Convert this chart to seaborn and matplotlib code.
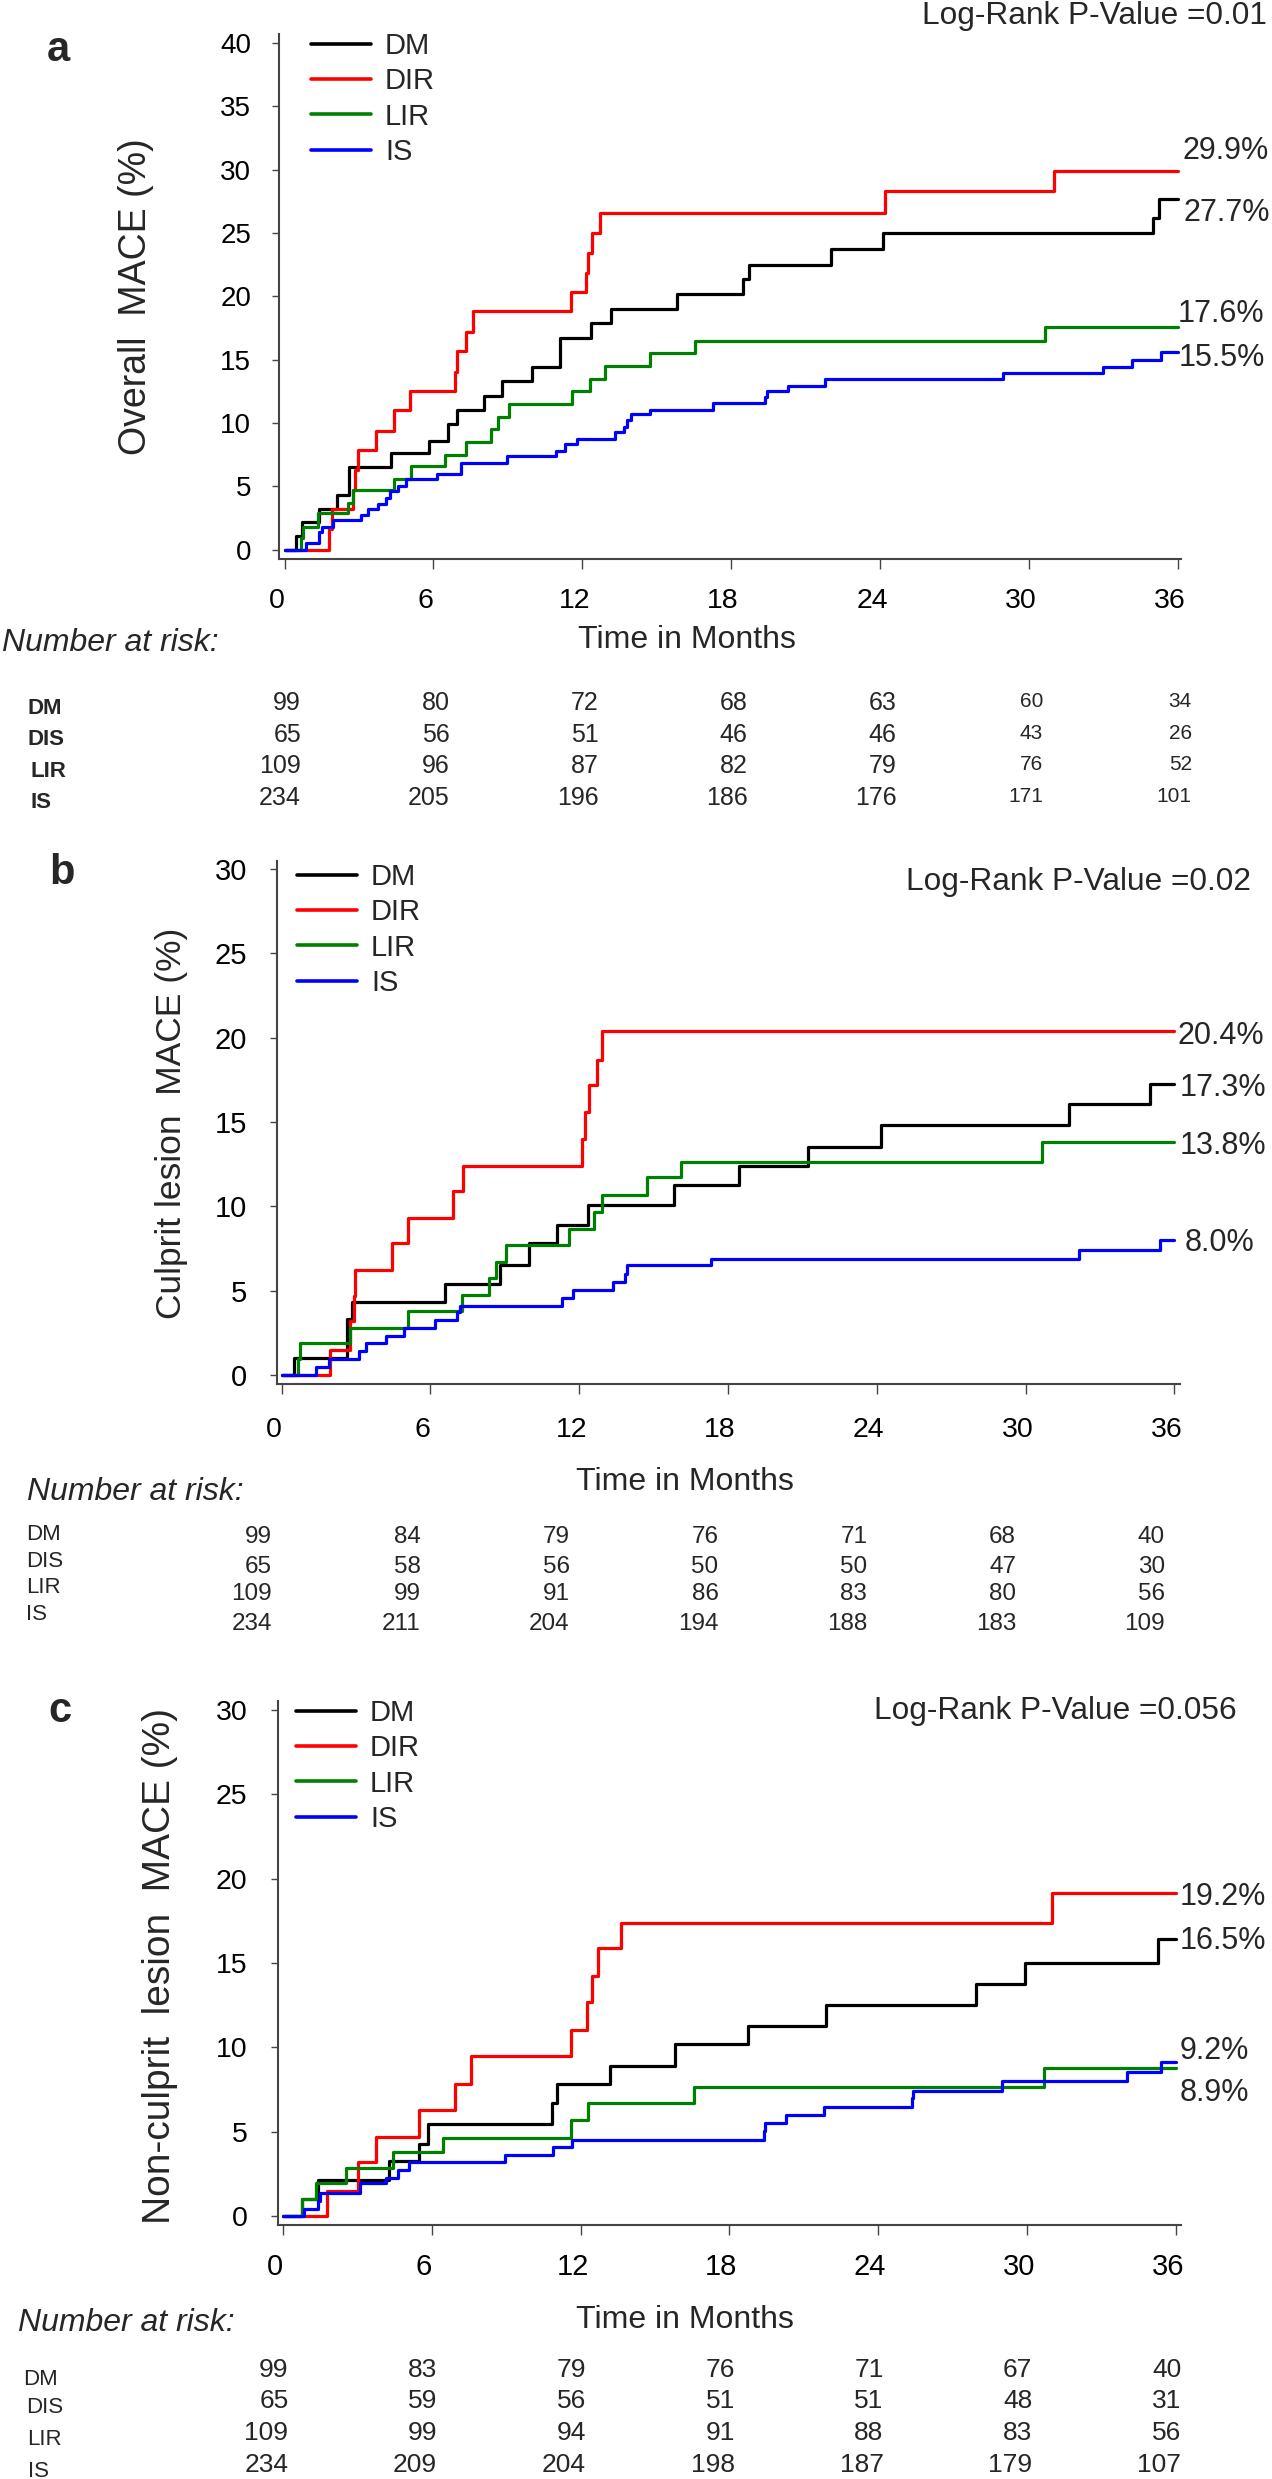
import matplotlib
matplotlib.use("Agg")
import matplotlib.pyplot as plt
import matplotlib.transforms as mtransforms
import pandas as pd
import seaborn as sns

# ---------------- data ----------------
GROUPS = ["DM", "DIR", "LIR", "IS"]
COLORS = {"DM": "#000000", "DIR": "#ff0000", "LIR": "#008000", "IS": "#0000ff"}
TICKS_X = [0, 6, 12, 18, 24, 30, 36]
RISK_ROWS = ["DM", "DIS", "LIR", "IS"]

# Panel a: overall MACE (step times in months, cumulative %)
A_DM_T = [0, 0.46, 0.71, 1.37, 2.1, 2.6, 4.28, 5.82, 6.6, 6.94, 8.04, 8.75, 9.99, 11.1, 12.36, 13.15, 15.8, 18.46, 18.73, 22.02, 24.12, 34.98, 35.24, 36]
A_DM_V = [0, 1.1, 2.2, 3.2, 4.3, 6.5, 7.6, 8.6, 9.9, 11.0, 12.1, 13.3, 14.4, 16.7, 17.9, 19.0, 20.2, 21.4, 22.5, 23.75, 25.0, 26.2, 27.7, 27.7]
A_DIR_T = [0, 1.78, 1.9, 2.75, 2.85, 2.97, 3.68, 4.42, 5.04, 6.86, 6.95, 7.3, 7.6, 11.55, 12.16, 12.22, 12.4, 12.7, 24.2, 31.0, 36]
A_DIR_V = [0, 1.6, 3.2, 4.7, 6.3, 7.9, 9.4, 11.0, 12.5, 14.0, 15.7, 17.2, 18.8, 20.3, 21.8, 23.4, 25.0, 26.6, 28.3, 29.9, 29.9]
A_LIR_T = [0, 0.68, 0.74, 1.34, 2.55, 2.77, 4.42, 5.08, 6.45, 7.3, 8.34, 8.62, 9.03, 11.6, 12.3, 12.9, 14.74, 16.56, 30.66, 36]
A_LIR_V = [0, 0.9, 1.8, 2.9, 3.7, 4.7, 5.6, 6.6, 7.5, 8.5, 9.5, 10.5, 11.5, 12.5, 13.5, 14.5, 15.5, 16.5, 17.6, 17.6]
A_IS_T = [0, 0.87, 1.37, 1.53, 1.94, 3.1, 3.35, 3.76, 4.09, 4.25, 4.58, 4.91, 6.15, 7.1, 8.95, 10.93, 11.3, 11.8, 13.3, 13.67, 13.8, 13.95, 14.74, 17.25, 19.37, 19.45, 20.29, 21.79, 28.96, 33.0, 34.15, 35.32, 36]
A_IS_V = [0, 0.5, 1.4, 1.8, 2.3, 2.7, 3.2, 3.6, 4.1, 4.6, 5.0, 5.6, 6.0, 6.8, 7.4, 7.8, 8.3, 8.7, 9.3, 9.7, 10.2, 10.7, 11.0, 11.6, 12.06, 12.5, 12.94, 13.5, 13.93, 14.45, 15.0, 15.6, 15.6]

# Panel b: culprit lesion MACE
B_DM_T = [0, 0.49, 2.63, 2.83, 6.6, 8.8, 9.98, 11.1, 12.36, 15.81, 18.46, 21.22, 24.16, 31.76, 35.0, 36]
B_DM_V = [0, 1.0, 3.3, 4.3, 5.4, 6.5, 7.8, 8.9, 10.1, 11.25, 12.37, 13.54, 14.81, 16.05, 17.27, 17.27]
B_DIR_T = [0, 1.94, 2.76, 2.9, 2.96, 4.44, 5.1, 6.9, 7.3, 12.13, 12.25, 12.4, 12.7, 12.9, 36]
B_DIR_V = [0, 1.5, 3.2, 4.7, 6.2, 7.8, 9.3, 10.9, 12.4, 14.0, 15.6, 17.2, 18.7, 20.4, 20.4]
B_LIR_T = [0, 0.68, 0.75, 2.76, 5.1, 7.28, 8.38, 8.63, 9.04, 11.6, 12.58, 12.9, 14.74, 16.09, 30.67, 36]
B_LIR_V = [0, 0.94, 1.87, 2.8, 3.8, 4.75, 5.74, 6.7, 7.7, 8.67, 9.68, 10.7, 11.76, 12.65, 13.83, 13.83]
B_IS_T = [0, 1.4, 1.9, 3.12, 3.4, 4.19, 4.93, 6.2, 7.07, 7.2, 11.3, 11.75, 13.36, 13.84, 13.92, 17.3, 32.16, 35.4, 36]
B_IS_V = [0, 0.5, 0.94, 1.4, 1.87, 2.34, 2.8, 3.28, 3.75, 4.1, 4.57, 5.04, 5.5, 5.97, 6.5, 6.86, 7.43, 8.0, 8.0]

# Panel c: non-culprit lesion MACE
C_DM_T = [0, 0.77, 1.4, 4.26, 5.47, 5.84, 10.85, 11.06, 13.17, 15.81, 18.75, 21.91, 27.96, 29.93, 35.29, 36]
C_DM_V = [0, 1.02, 2.16, 3.29, 4.24, 5.45, 6.69, 7.83, 8.92, 10.2, 11.28, 12.53, 13.77, 14.98, 16.45, 16.45]
C_DIR_T = [0, 1.79, 3.03, 3.74, 5.47, 6.95, 7.6, 11.6, 12.25, 12.46, 12.7, 13.62, 31.02, 36]
C_DIR_V = [0, 1.47, 3.18, 4.7, 6.29, 7.83, 9.46, 11.0, 12.7, 14.2, 15.9, 17.36, 19.17, 19.17]
C_LIR_T = [0, 0.77, 1.35, 2.55, 4.43, 6.45, 11.6, 12.3, 16.56, 30.68, 36]
C_LIR_V = [0, 0.98, 1.93, 2.84, 3.79, 4.65, 5.67, 6.69, 7.67, 8.78, 8.78]
C_IS_T = [0, 0.86, 1.43, 1.5, 3.11, 4.15, 4.64, 5.1, 8.97, 10.9, 11.67, 19.39, 19.45, 20.3, 21.8, 25.35, 25.4, 29.0, 34.05, 35.39, 36]
C_IS_V = [0, 0.39, 0.9, 1.36, 1.93, 2.27, 2.72, 3.18, 3.63, 4.08, 4.5, 5.06, 5.51, 6.01, 6.47, 6.97, 7.42, 7.99, 8.51, 9.14, 9.14]

# Numbers at risk
A_RISK = [[99, 80, 72, 68, 63, 60, 34], [65, 56, 51, 46, 46, 43, 26],
          [109, 96, 87, 82, 79, 76, 52], [234, 205, 196, 186, 176, 171, 101]]
B_RISK = [[99, 84, 79, 76, 71, 68, 40], [65, 58, 56, 50, 50, 47, 30],
          [109, 99, 91, 86, 83, 80, 56], [234, 211, 204, 194, 188, 183, 109]]
C_RISK = [[99, 83, 79, 76, 71, 67, 40], [65, 59, 56, 51, 51, 48, 31],
          [109, 99, 94, 91, 88, 83, 56], [234, 209, 204, 198, 187, 179, 107]]

A_END = ["29.9%", "27.7%", "17.6%", "15.5%"]
B_END = ["20.4%", "17.3%", "13.8%", "8.0%"]
C_END = ["19.2%", "16.5%", "9.2%", "8.9%"]
A_P, B_P, C_P = "Log-Rank P-Value =0.01", "Log-Rank P-Value =0.02", "Log-Rank P-Value =0.056"
A_YLAB, B_YLAB, C_YLAB = "Overall  MACE (%)", "Culprit lesion  MACE (%)", "Non-culprit  lesion  MACE (%)"

# ---------------- figure ----------------
sns.set_theme(style="white")
plt.rcParams["font.family"] = ["Liberation Sans", "DejaVu Sans"]

W, H, DPI = 1272, 2479, 100
fig = plt.figure(figsize=(W / DPI, H / DPI), dpi=DPI)
fig.patch.set_facecolor("white")


def fx(x):
    return x / W


def fy(y):
    return 1 - y / H


def ptext(x, y, s, **kw):
    return fig.text(fx(x), fy(y), s, **kw)


SPINE = "#444444"

panels = [
    dict(letter="a", series={"DM": (A_DM_T, A_DM_V), "DIR": (A_DIR_T, A_DIR_V), "LIR": (A_LIR_T, A_LIR_V), "IS": (A_IS_T, A_IS_V)},
         rect=(278.8, 33.7, 1180.8, 558.7), xlim=(-0.23, 36.12), ylim=(-0.72, 40.73), yticks=list(range(0, 41, 5)),
         ytfs=20, xtfs=20.5, ypad=14.7, xpad=14.3, letter_pos=(47, 61), ylab=A_YLAB, ylab_pos=(136, 297), ylab_fs=27,
         p=A_P, p_pos=(922, 23.7), end=A_END,
         end_pos=[(1182, 158.8), (1183.8, 221.2), (1177.8, 321.5), (1178.6, 365.5)],
         leg=(311, 32), nar=(1.7, 650.7), tim=(686.5, 640),
         risk=A_RISK, risk_y=[710, 741.7, 773.3, 805], risk_fs=[18, 18, 18, 18, 18, 15, 15],
         risk_dx=[16.5, 16.5, 16.5, 16.5, 16.5, 14, 14], risk_dy=[0, 0, 0, 0, 0, -3, -3],
         lab_x=[28, 28, 31, 31], lab_y=[714, 745, 776.7, 808], lab_w="bold"),
    dict(letter="b", series={"DM": (B_DM_T, B_DM_V), "DIR": (B_DIR_T, B_DIR_V), "LIR": (B_LIR_T, B_LIR_V), "IS": (B_IS_T, B_IS_V)},
         rect=(276.7, 861, 1179.5, 1384), xlim=(-0.198, 36.205), ylim=(-0.533, 30.47), yticks=list(range(0, 31, 5)),
         ytfs=21, xtfs=20.5, ypad=16.1, xpad=16.5, letter_pos=(49, 884), ylab=B_YLAB, ylab_pos=(172, 1123), ylab_fs=25.5,
         p=B_P, p_pos=(906, 890), end=B_END,
         end_pos=[(1177.8, 1044), (1179.5, 1096), (1179.5, 1153.7), (1185, 1251)],
         leg=(297, 863), nar=(26.7, 1500), tim=(685, 1481.7),
         risk=B_RISK, risk_y=[1543.3, 1573, 1600, 1630], risk_fs=[17.5] * 7, risk_dx=[-9.5] * 7, risk_dy=[0] * 7,
         lab_x=[26, 26, 26, 26], lab_y=[1540, 1566.7, 1593, 1620], lab_w="normal"),
    dict(letter="c", series={"DM": (C_DM_T, C_DM_V), "DIR": (C_DIR_T, C_DIR_V), "LIR": (C_LIR_T, C_LIR_V), "IS": (C_IS_T, C_IS_V)},
         rect=(277.6, 1701, 1180.8, 2225), xlim=(-0.214, 36.206), ylim=(-0.533, 30.53), yticks=list(range(0, 31, 5)),
         ytfs=20.5, xtfs=21, ypad=16.3, xpad=13.4, letter_pos=(48, 1722), ylab=C_YLAB, ylab_pos=(160, 1966), ylab_fs=28,
         p=C_P, p_pos=(874, 1718.5), end=C_END,
         end_pos=[(1179.5, 1904.8), (1179.5, 1949), (1179.5, 2059), (1179.5, 2101)],
         leg=(296, 1699), nar=(18, 2330.7), tim=(684.5, 2320),
         risk=C_RISK, risk_y=[2377, 2408, 2440, 2471.7], risk_fs=[19] * 7, risk_dx=[5.5] * 7, risk_dy=[0] * 7,
         lab_x=[22.7, 26, 27.3, 28], lab_y=[2385, 2413, 2445, 2476.7], lab_w="normal"),
]

for P in panels:
    L, T, R, B = P["rect"]
    ax = fig.add_axes([fx(L), fy(B), (R - L) / W, (B - T) / H])
    frames = [pd.DataFrame({"Month": t, "MACE": v, "Group": g}) for g, (t, v) in P["series"].items()]
    df = pd.concat(frames, ignore_index=True)
    sns.lineplot(data=df, x="Month", y="MACE", hue="Group", hue_order=GROUPS, palette=COLORS,
                 estimator=None, sort=False, drawstyle="steps-post", linewidth=2.3, ax=ax)
    ax.set_xlim(*P["xlim"])
    ax.set_ylim(*P["ylim"])
    ax.set_xticks(TICKS_X)
    ax.set_xticklabels([str(t) for t in TICKS_X])
    ax.set_yticks(P["yticks"])
    ax.set_yticklabels([str(t) for t in P["yticks"]])
    ax.set_xlabel("")
    ax.set_ylabel("")
    ax.set_facecolor("white")
    ax.grid(False)
    for s in ["top", "right"]:
        ax.spines[s].set_visible(False)
    for s in ["left", "bottom"]:
        ax.spines[s].set_color(SPINE)
        ax.spines[s].set_linewidth(1.5)
    ax.tick_params(axis="x", bottom=True, direction="out", length=7, width=1, color=SPINE,
                   labelsize=P["xtfs"], pad=P["xpad"], labelcolor="black")
    ax.tick_params(axis="y", left=True, direction="out", length=5.3, width=1, color=SPINE,
                   labelsize=P["ytfs"], pad=P["ypad"], labelcolor="black")
    shift = mtransforms.ScaledTranslation(-8 / DPI, 0, fig.dpi_scale_trans)
    for lab in ax.get_xticklabels():
        lab.set_transform(lab.get_transform() + shift)

    handles, labels = ax.get_legend_handles_labels()
    hl = [(h, l) for h, l in zip(handles, labels) if l in GROUPS]
    leg = ax.legend([h for h, _ in hl], [l for _, l in hl], loc="upper left",
                    bbox_to_anchor=(fx(P["leg"][0]), fy(P["leg"][1])), bbox_transform=fig.transFigure,
                    frameon=False, fontsize=21, handlelength=2.06, handletextpad=0.48,
                    labelspacing=0.25, borderpad=0, borderaxespad=0)
    for h in leg.get_lines():
        h.set_linewidth(2.6)

    # annotations
    ptext(*P["letter_pos"], P["letter"], fontsize=30, fontweight="bold", ha="left", va="baseline")
    ptext(*P["ylab_pos"], P["ylab"], fontsize=P["ylab_fs"], rotation=90, ha="center", va="center")
    ptext(*P["p_pos"], P["p"], fontsize=22.8, ha="left", va="baseline")
    for s, (x, y) in zip(P["end"], P["end_pos"]):
        ptext(x, y, s, fontsize=22, ha="left", va="baseline")
    ptext(*P["nar"], "Number at risk:", fontsize=23, style="italic", ha="left", va="baseline")
    ptext(*P["tim"], "Time in Months", fontsize=23, ha="center", va="center")

    # risk table
    blend = mtransforms.blended_transform_factory(ax.transData, fig.transFigure)
    for r, row in enumerate(P["risk"]):
        for c, (t, n) in enumerate(zip(TICKS_X, row)):
            off = mtransforms.ScaledTranslation(P["risk_dx"][c] / DPI, 0, fig.dpi_scale_trans)
            fig.text(t, fy(P["risk_y"][r] + P["risk_dy"][c]), str(n), transform=blend + off,
                     ha="right", va="baseline", fontsize=P["risk_fs"][c])
        ptext(P["lab_x"][r], P["lab_y"][r], RISK_ROWS[r], fontsize=16, fontweight=P["lab_w"],
              ha="left", va="baseline")

fig.savefig("out.png", dpi=DPI, facecolor="white")
